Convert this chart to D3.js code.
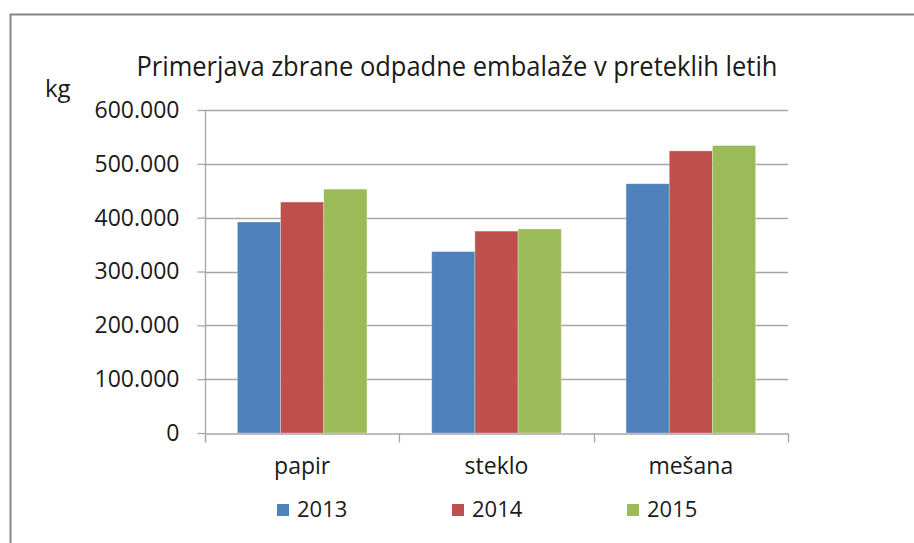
<!DOCTYPE html>
<html>
<head>
<meta charset="utf-8">
<script src="https://cdn.jsdelivr.net/npm/d3@7"></script>
<style>
  html, body { margin: 0; padding: 0; background: #fff; }
  svg { display: block; font-family: "Open Sans", sans-serif; }
</style>
</head>
<body>
<svg id="chart" width="914" height="543"></svg>
<script>
// ——— Data ———
const categories = ['papir', 'steklo', 'mešana'];
const years = ['2013', '2014', '2015'];
const values2013 = [392000, 337000, 463000];
const values2014 = [429000, 375000, 524000];
const values2015 = [453000, 379000, 534000];
const yTicks = [0, 100000, 200000, 300000, 400000, 500000, 600000];
const colors = ['#4F81BD', '#C0504D', '#9BBB59'];
const titleText = 'Primerjava zbrane odpadne embalaže v preteklih letih';
const unitText = 'kg';

const series = [values2013, values2014, values2015];

const svg = d3.select('#chart');
const W = 914, H = 543;

// ——— Outer frame ———
svg.append('rect')
    .attr('x', 10.5).attr('y', 14.5)
    .attr('width', 930).attr('height', 560)
    .attr('fill', '#fff')
    .attr('stroke', '#868686')
    .attr('stroke-width', 2);

// ——— Plot area ———
const plot = { left: 205, right: 788, top: 110, bottom: 433 };

const x = d3.scaleBand()
    .domain(categories)
    .range([plot.left, plot.right])
    .padding(0);

// Excel gap width 150% → group takes 3 of 4.5 bar widths
const bw = x.bandwidth() / 4.5;
const xInner = d3.scaleBand()
    .domain(years)
    .range([bw * 0.75, x.bandwidth() - bw * 0.75])
    .padding(0);

const y = d3.scaleLinear()
    .domain([0, 600000])
    .range([plot.bottom, plot.top]);

const fmt = v => v === 0 ? '0' : d3.format(',')(v).replace(/,/g, '.');

// gridlines
svg.append('g')
    .selectAll('line')
    .data(yTicks.filter(t => t > 0))
    .join('line')
    .attr('x1', plot.left).attr('x2', plot.right)
    .attr('y1', d => Math.round(y(d)) + 0.5)
    .attr('y2', d => Math.round(y(d)) + 0.5)
    .attr('stroke', '#a6a6a6')
    .attr('stroke-width', 1.3);

// bars
const groups = svg.append('g')
    .selectAll('g')
    .data(series)
    .join('g')
    .attr('fill', (d, i) => colors[i]);

groups.selectAll('rect')
    .data((d, si) => d.map((v, ci) => ({ v, ci, si })))
    .join('rect')
    .attr('x', d => x(categories[d.ci]) + xInner(years[d.si]))
    .attr('width', xInner.bandwidth())
    .attr('y', d => y(d.v))
    .attr('height', d => y(0) - y(d.v))
    .attr('stroke', 'rgba(255,255,255,0.35)')
    .attr('stroke-width', 0.8);

// y axis
const yAxis = d3.axisLeft(y)
    .tickValues(yTicks)
    .tickSize(8)
    .tickPadding(18)
    .tickFormat(fmt);

const yG = svg.append('g')
    .attr('transform', `translate(${plot.left + 0.5},0)`)
    .call(yAxis);
yG.select('.domain').remove();
yG.append('line')
    .attr('x1', 0).attr('x2', 0)
    .attr('y1', plot.top).attr('y2', plot.bottom + 9)
    .attr('stroke', '#a6a6a6').attr('stroke-width', 1.3);
yG.selectAll('.tick line').attr('stroke', '#a6a6a6').attr('stroke-width', 1.3);
yG.selectAll('.tick text')
    .attr('fill', '#1a1a1a')
    .attr('font-size', '23px')
    .attr('font-family', '"Open Sans", sans-serif');

// x axis
const xAxis = d3.axisBottom(x)
    .tickSize(0)
    .tickPadding(24);

const xG = svg.append('g')
    .attr('transform', `translate(0,${plot.bottom + 0.5})`)
    .call(xAxis);
xG.select('.domain')
    .attr('stroke', '#a6a6a6').attr('stroke-width', 1.3);
xG.selectAll('.tick text')
    .attr('fill', '#1a1a1a')
    .attr('font-size', '23px')
    .attr('font-family', '"Open Sans", sans-serif');

// category boundary ticks
xG.append('g')
    .selectAll('line')
    .data(categories.map(c => x(c)).concat([x.range()[1]]))
    .join('line')
    .attr('x1', d => Math.round(d) + 0.5).attr('x2', d => Math.round(d) + 0.5)
    .attr('y1', 0).attr('y2', 9)
    .attr('stroke', '#a6a6a6').attr('stroke-width', 1.3);

// ——— Title ———
const title = svg.append('text')
    .attr('x', 457).attr('y', 76)
    .attr('text-anchor', 'middle')
    .attr('fill', '#1a1a1a')
    .attr('font-size', '27px')
    .text(titleText);
title.attr('textLength', 641).attr('lengthAdjust', 'spacingAndGlyphs');

// unit label
svg.append('text')
    .attr('x', 45).attr('y', 97)
    .attr('fill', '#1a1a1a')
    .attr('font-size', '24px')
    .text(unitText);

// ——— Legend ———
const legend = svg.append('g')
    .selectAll('g')
    .data(years)
    .join('g')
    .attr('transform', (d, i) => `translate(${277 + i * 175},504)`);

legend.append('rect')
    .attr('width', 12).attr('height', 12)
    .attr('fill', (d, i) => colors[i]);

legend.append('text')
    .attr('x', 20).attr('y', 13)
    .attr('fill', '#1a1a1a')
    .attr('font-size', '22px')
    .text(d => d);
</script>
</body>
</html>
